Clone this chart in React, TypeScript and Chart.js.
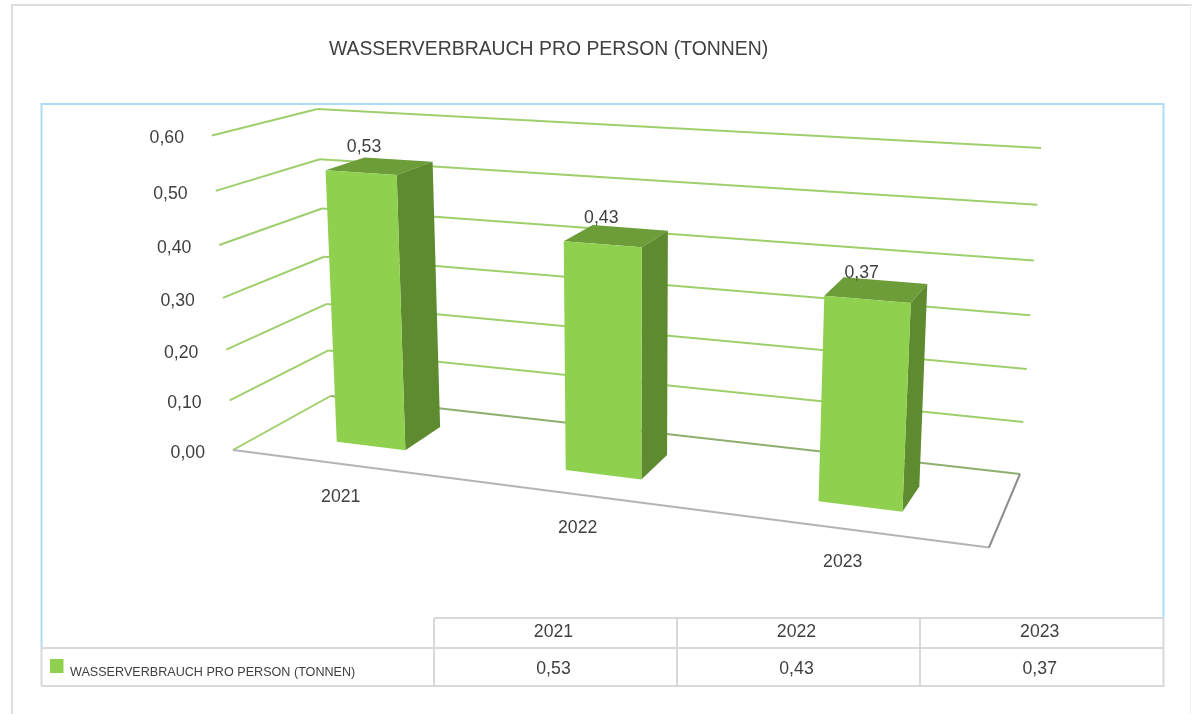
import React, { useEffect, useRef } from "react";
import { Chart, BarController, registerables } from "chart.js";

Chart.register(...registerables);

// ---- data ----
const categories = ["2021", "2022", "2023"];
const waterUse = [0.53, 0.43, 0.37];
const seriesName = "WASSERVERBRAUCH PRO PERSON (TONNEN)";
const axisMax = 0.6;
const axisStep = 0.1;

// ---- perspective planes: the corners of the unit square (u along x, t along y) on the page ----
type Pt = [number, number];
const PLANE_BAR_FRONT: Pt[] = [[262.7, 432.5], [999, 523.7], [1018, 172.5], [247, 128.5]];
const PLANE_BAR_BACK: Pt[] = [[303.4, 410], [1013, 498], [1031, 157.5], [289.5, 117.5]];
const PLANE_BACK_WALL: Pt[] = [[330.5, 396], [1020, 474], [1041, 148], [317.5, 109]];
const PLANE_SIDE_WALL: Pt[] = [[233, 450], [330.5, 396], [317.5, 109], [212, 135.5]];
const PLANE_FLOOR: Pt[] = [[233, 450], [989, 547.5], [1020, 474], [330.5, 396]];

const FONT = '"Liberation Sans", Arial, sans-serif';
const INK = "#404040";
const GRID = "#9fcf6c";
const FRONT = "#8fd14f";
const SIDE = "#5f8b30";
const TOP = "#6c9d38";

function homography(q: Pt[]) {
  const [[x0, y0], [x1, y1], [x2, y2], [x3, y3]] = q;
  const sx = x0 - x1 + x2 - x3, sy = y0 - y1 + y2 - y3;
  const dx1 = x1 - x2, dx2 = x3 - x2, dy1 = y1 - y2, dy2 = y3 - y2;
  const den = dx1 * dy2 - dx2 * dy1;
  const g = (sx * dy2 - dx2 * sy) / den, h = (dx1 * sy - sx * dy1) / den;
  const a = x1 - x0 + g * x1, b = x3 - x0 + h * x3;
  const d = y1 - y0 + g * y1, e = y3 - y0 + h * y3;
  return (u: number, t: number): Pt => {
    const w = g * u + h * t + 1;
    return [(a * u + b * t + x0) / w, (d * u + e * t + y0) / w];
  };
}
const barFront = homography(PLANE_BAR_FRONT);
const barBack = homography(PLANE_BAR_BACK);
const backWall = homography(PLANE_BACK_WALL);
const sideWall = homography(PLANE_SIDE_WALL);
const floor = homography(PLANE_FLOOR);

const comma = (v: number) => v.toFixed(2).replace(".", ",");

function poly(ctx: CanvasRenderingContext2D, pts: Pt[], fill: string) {
  ctx.beginPath();
  pts.forEach((p, i) => (i ? ctx.lineTo(p[0], p[1]) : ctx.moveTo(p[0], p[1])));
  ctx.closePath();
  ctx.fillStyle = fill;
  ctx.fill();
}
function line(ctx: CanvasRenderingContext2D, a: Pt, b: Pt, color: string, w: number) {
  ctx.beginPath();
  ctx.moveTo(a[0], a[1]);
  ctx.lineTo(b[0], b[1]);
  ctx.strokeStyle = color;
  ctx.lineWidth = w;
  ctx.stroke();
}
function text(ctx: CanvasRenderingContext2D, s: string, x: number, y: number, size: number, align: CanvasTextAlign) {
  ctx.font = `${size}px ${FONT}`;
  ctx.fillStyle = INK;
  ctx.textAlign = align;
  ctx.textBaseline = "middle";
  ctx.fillText(s, x, y + 1);
}

// A bar controller that draws each bar element as a box through the perspective planes.
class Bar3DController extends BarController {
  static id = "bar3d";
  static defaults = BarController.defaults;
  static overrides = BarController.overrides;
  draw() {
    const chart = this.chart;
    const ctx = chart.ctx;
    const area = chart.chartArea;
    const uOf = (px: number) => (px - area.left) / area.width;
    const tOf = (py: number) => (area.bottom - py) / area.height;
    for (const el of this.getMeta().data as any[]) {
      const uL = uOf(el.x - el.width / 2), uR = uOf(el.x + el.width / 2);
      const tT = tOf(el.y), tB = tOf(el.base);
      const fTL = barFront(uL, tT), fTR = barFront(uR, tT), fBL = barFront(uL, tB), fBR = barFront(uR, tB);
      const bTL = barBack(uL, tT), bTR = barBack(uR, tT), bBR = barBack(uR, tB);
      poly(ctx, [fTL, fTR, bTR, bTL], TOP);
      poly(ctx, [fTR, bTR, bBR, fBR], SIDE);
      poly(ctx, [fTL, fTR, fBR, fBL], FRONT);
    }
  }
}
Chart.register(Bar3DController);

const scenePlugin = {
  id: "scene",
  beforeDatasetsDraw(chart: any) {
    const ctx: CanvasRenderingContext2D = chart.ctx;
    const y = chart.scales.y;
    const area = chart.chartArea;
    ctx.save();
    ctx.fillStyle = "#ffffff";
    ctx.fillRect(0, 0, chart.width, chart.height);
    // outer frame
    line(ctx, [12, 714], [12, 5], "#dedede", 2);
    line(ctx, [11, 5], [1192, 5], "#dedede", 2);
    line(ctx, [1190.5, 5], [1190.5, 714], "#f1f1f1", 1);
    // plot frame
    ctx.strokeStyle = "#aedcf5";
    ctx.lineWidth = 2;
    ctx.beginPath();
    ctx.moveTo(41.5, 648);
    ctx.lineTo(41.5, 104);
    ctx.lineTo(1163.5, 104);
    ctx.lineTo(1163.5, 618);
    ctx.stroke();
    // title
    text(ctx, seriesName, 548.5, 48.5, 19.4, "center");
    // walls
    for (const tick of y.ticks) {
      const t = (area.bottom - y.getPixelForValue(tick.value)) / area.height;
      const a = sideWall(0, t), b = sideWall(1, t), c = backWall(1, t);
      const isZero = tick.value === 0;
      line(ctx, a, b, GRID, 2);
      line(ctx, b, c, isZero ? "#8fae70" : GRID, 2);
      text(ctx, comma(tick.value), a[0] - 28, a[1] + 2, 17.7, "right");
    }
    // floor edges
    line(ctx, floor(0, 0), floor(1, 0), "#b4b4b4", 2);
    line(ctx, floor(1, 0), floor(1, 1), "#8e8e8e", 2);
    ctx.restore();
  },
  afterDatasetsDraw(chart: any) {
    const ctx: CanvasRenderingContext2D = chart.ctx;
    const area = chart.chartArea;
    const meta = chart.getDatasetMeta(0);
    ctx.save();
    meta.data.forEach((el: any, i: number) => {
      const u = (el.x - area.left) / area.width;
      const t = (area.bottom - el.y) / area.height;
      const p = barFront(u, t);
      text(ctx, comma(waterUse[i]), p[0] + 5.3 - 13 * u, p[1] - 27, 17.7, "center");
      const f = floor(u, 0);
      text(ctx, categories[i], f[0] - 1.5, f[1] + 32.5, 17.7, "center");
    });
    // data table
    const rows = [618, 648, 686];
    const cols = [434, 677, 920, 1163.5];
    const col = "#d9d9d9";
    line(ctx, [cols[0], rows[0]], [cols[3], rows[0]], col, 2);
    line(ctx, [41, rows[1]], [cols[3], rows[1]], col, 2);
    line(ctx, [41, rows[2]], [cols[3] + 1, rows[2]], col, 2);
    line(ctx, [41.5, rows[1]], [41.5, rows[2]], col, 2);
    cols.forEach((x) => line(ctx, [x, rows[0]], [x, rows[2]], col, 2));
    categories.forEach((c, i) => {
      const x = (cols[i] + cols[i + 1]) / 2 - 2;
      text(ctx, c, x, 631, 17.7, "center");
      text(ctx, comma(waterUse[i]), x, 668, 17.7, "center");
    });
    ctx.fillStyle = FRONT;
    ctx.fillRect(50, 659, 13.5, 14);
    text(ctx, seriesName, 70, 672, 12.6, "left");
    ctx.restore();
  },
};

export default function App() {
  const ref = useRef<HTMLCanvasElement>(null);
  useEffect(() => {
    const chart = new Chart(ref.current as HTMLCanvasElement, {
      type: "bar3d" as any,
      data: {
        labels: categories,
        datasets: [{ label: seriesName, data: waterUse, barPercentage: 0.31, categoryPercentage: 1, clip: false } as any],
      },
      options: {
        responsive: false,
        animation: false,
        layout: { padding: 0 },
        plugins: { legend: { display: false }, title: { display: false }, tooltip: { enabled: false } },
        scales: {
          x: { type: "category", offset: true, display: false },
          y: { type: "linear", min: 0, max: axisMax, ticks: { stepSize: axisStep }, display: false },
        },
      },
      plugins: [scenePlugin],
    });
    return () => chart.destroy();
  }, []);
  return <canvas ref={ref} width={1192} height={714} style={{ position: "absolute", left: 0, top: 0, display: "block" }} />;
}
